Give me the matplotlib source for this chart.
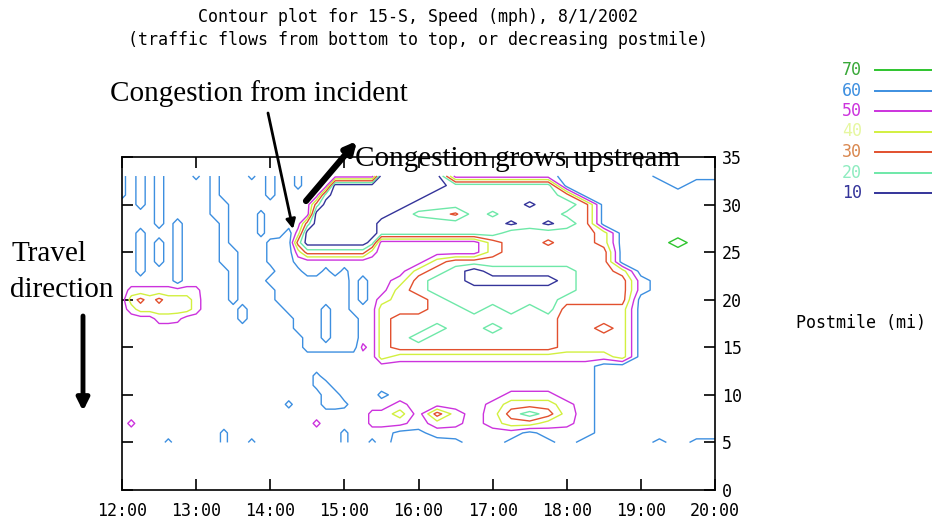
import numpy as np
import matplotlib
matplotlib.use("Agg")
import matplotlib.pyplot as plt
from matplotlib.lines import Line2D
from matplotlib.patches import FancyArrowPatch

# ---------------- data ----------------
# grid columns: time of day in hours (7.5 min steps up to 15:22, then 15 min)
time_hours = [12.0, 12.125, 12.25, 12.375, 12.5, 12.625, 12.75, 12.875,
              13.0, 13.125, 13.25, 13.375, 13.5, 13.625, 13.75, 13.875,
              14.0, 14.125, 14.25, 14.375, 14.5, 14.625, 14.75, 14.875,
              15.0, 15.125, 15.25, 15.375,
              15.5, 15.75, 16.0, 16.25, 16.5, 16.75, 17.0, 17.25, 17.5,
              17.75, 18.0, 18.25, 18.5, 18.75, 19.0, 19.25, 19.5, 19.75, 20.0]
# grid rows: postmile, top row first
postmiles = [33, 32, 31, 30, 29, 28, 27, 26, 25, 24, 23, 22, 21, 20, 19,
             18, 17, 16, 15, 14, 13, 12, 11, 10, 9, 8, 7, 6, 5]
# speed, one code per cell (mph, see speed_codes)
speed_codes = {'0': 5, '1': 15, '2': 25, '3': 35, '4': 45, '5': 55, '6': 65,
               '7': 75, 'a': 63, 'b': 47, 'c': 57, 'e': 8, 'g': 22, 'o': 27,
               'r': 32}
speed_rows = [
    "a565 6555 a565 55a5 655a 5555 5555 | 0 00055 55556 6666c ccc",  # 33
    "a565 6555 5565 5555 655a 5550 0000 | 0 00011 11116 66666 c66",  # 32
    "a565 6555 5565 5555 6555 5510 0000 | 0 00111 11112 66666 666",  # 31
    "5565 6555 5566 5555 5555 5200 0000 | 0 01111 11e11 26666 666",  # 30
    "5555 6555 5566 555a 5555 5000 0000 | 0 1g2r1 g111g 26666 666",  # 29
    "5555 6565 5556 555a 5555 2000 0000 | 1 11111 1e1e1 26666 666",  # 28
    "5565 5565 5556 555a 5564 0000 0000 | 1 11111 12222 23666 666",  # 27
    "5565 6565 5556 5555 a662 0000 0001 | 5 55555 322r2 23666 766",  # 26
    "5565 6565 5556 6555 a664 2222 2224 | 5 55555 32222 22666 666",  # 25
    "5565 6565 5556 6555 a665 5555 5555 | 5 55322 22222 22666 666",  # 24
    "5565 5565 5555 6555 566a 55a5 a555 | 5 53210 11111 22366 666",  # 23
    "5555 5565 5555 6555 6666 6666 6565 | 5 42110 00001 22256 666",  # 22
    "5bbb bbbb b555 6555 5666 6666 6565 | 5 32111 11111 22256 666",  # 21
    "53o3 o333 4555 6555 5666 6666 6565 | 4 33211 11112 22266 666",  # 20
    "5433 3333 4555 5655 5566 6656 6555 | 3 33221 21213 33366 666",  # 19
    "5555 44b5 5555 5655 5556 6656 6655 | 3 22222 22223 33366 666",  # 18
    "5555 5555 5555 5555 5556 6656 6655 | 3 22122 12223 32366 666",  # 17
    "5555 5555 5555 5555 5555 6656 6655 | 3 21222 22223 33366 666",  # 16
    "5555 5555 5555 5555 5555 6666 66b5 | 3 22222 22223 33366 666",  # 15
    "5555 5555 5555 5555 5555 5555 5555 | 3 44444 44444 44366 666",  # 14
    "5555 5555 5555 5555 5555 5555 5555 | 5 55555 55555 56666 666",  # 13
    "5555 5555 5555 5555 5555 5a55 5555 | 5 55555 55555 56666 666",  # 12
    "5555 5555 5555 5555 5555 5a65 5555 | 5 55555 55555 56666 666",  # 11
    "5555 5555 5555 5555 5555 5566 5555 | a 55555 5bbb5 56666 666",  # 10
    "5555 5555 5555 5555 55a5 5566 a555 | 5 b5555 b333b 56666 666",  # 9
    "5555 5555 5555 5555 5555 5555 555b | b 35245 42124 56666 666",  # 8
    "5b55 5555 5555 5555 5555 5b55 555b | b b54b5 4334b 56666 666",  # 7
    "5555 5555 555a 5555 5555 5555 a555 | 5 aa555 55a55 56666 666",  # 6
    "5555 5a55 555a 55a5 5555 5555 a55a | 5 666a5 5a6a5 6666c 6cc",  # 5
]

levels = [10, 20, 30, 40, 50, 60, 70]
level_colors = ['#34349a', '#6ee8a8', '#e2502e', '#d2f040', '#cc33dd',
                '#3d8fe0', '#2ec42e']
label_colors = ['#34349a', '#8eecc0', '#d98850', '#e6f7a0', '#cc33dd',
                '#3d8fe0', '#38a838']
x_ticks = [12, 13, 14, 15, 16, 17, 18, 19, 20]
x_tick_labels = ['12:00', '13:00', '14:00', '15:00', '16:00', '17:00',
                 '18:00', '19:00', '20:00']
y_ticks = [0, 5, 10, 15, 20, 25, 30, 35]

title_lines = ["Contour plot for 15-S, Speed (mph), 8/1/2002",
               "(traffic flows from bottom to top, or decreasing postmile)"]

# ---------------- figure ----------------
W, H = 932, 519
fig = plt.figure(figsize=(W / 100, H / 100), dpi=100)
fig.patch.set_facecolor('white')

ax = fig.add_axes([122 / W, (H - 490) / H, 593 / W, 333 / H])

Z = np.array([[speed_codes[c] for c in row.replace(' ', '').replace('|', '')]
              for row in speed_rows], dtype=float)
X, Y = np.meshgrid(time_hours, postmiles)
ax.contour(X, Y, Z, levels=levels, colors=level_colors, linewidths=1.0)

mono = 'DejaVu Sans Mono'
ax.set_xlim(12, 20)
ax.set_ylim(0, 35)
ax.set_xticks(x_ticks)
ax.set_xticklabels(x_tick_labels, family=mono, fontsize=12)
ax.set_yticks(y_ticks)
ax.set_yticklabels([str(v) for v in y_ticks], family=mono, fontsize=12)
ax.tick_params(axis='both', direction='in', length=8, width=1.2,
               top=True, bottom=True, left=True, right=True,
               labelleft=False, labelright=True)
ax.tick_params(axis='x', pad=9)
ax.tick_params(axis='y', pad=5)
for s in ax.spines.values():
    s.set_linewidth(1.2)

# title
fig.text(418 / W, 1 - 17 / H, title_lines[0], ha='center', va='center',
         family=mono, fontsize=12)
fig.text(418 / W, 1 - 40 / H, title_lines[1], ha='center', va='center',
         family=mono, fontsize=12)

# legend (levels top = 70)
for i, (lv, lc, tc) in enumerate(zip(levels[::-1], level_colors[::-1],
                                      label_colors[::-1])):
    yy = 1 - (70 + 20.5 * i) / H
    fig.text(842 / W, yy, str(lv), ha='left', va='center', family=mono,
             fontsize=12, color=tc)
    fig.add_artist(Line2D([875 / W, 932 / W], [yy, yy], color=lc, lw=1.4))

fig.text(796 / W, 1 - 323 / H, 'Postmile (mi)', ha='left', va='center',
         family=mono, fontsize=12)

# annotations
serif = ['Liberation Serif', 'DejaVu Serif']
fig.text(110 / W, 1 - 101 / H, 'Congestion from incident', ha='left',
         va='baseline', family=serif, fontsize=21)
fig.text(355 / W, 1 - 166 / H, 'Congestion grows upstream', ha='left',
         va='baseline', family=serif, fontsize=21)
fig.text(12 / W, 1 - 261 / H, 'Travel', ha='left', va='baseline',
         family=serif, fontsize=21)
fig.text(10 / W, 1 - 297 / H, 'direction', ha='left', va='baseline',
         family=serif, fontsize=21)


def arrow(x0, y0, x1, y1, lw, ms):
    fig.add_artist(FancyArrowPatch(
        (x0 / W, 1 - y0 / H), (x1 / W, 1 - y1 / H),
        transform=fig.transFigure, arrowstyle='-|>', color='black',
        lw=lw, mutation_scale=ms, shrinkA=0, shrinkB=0))


arrow(268, 113, 293, 229, 2.0, 14)
arrow(306, 201, 357, 141, 4.5, 16)
arrow(83, 316, 83, 411, 3.5, 18)

fig.savefig('out.png', dpi=100, facecolor='white')
